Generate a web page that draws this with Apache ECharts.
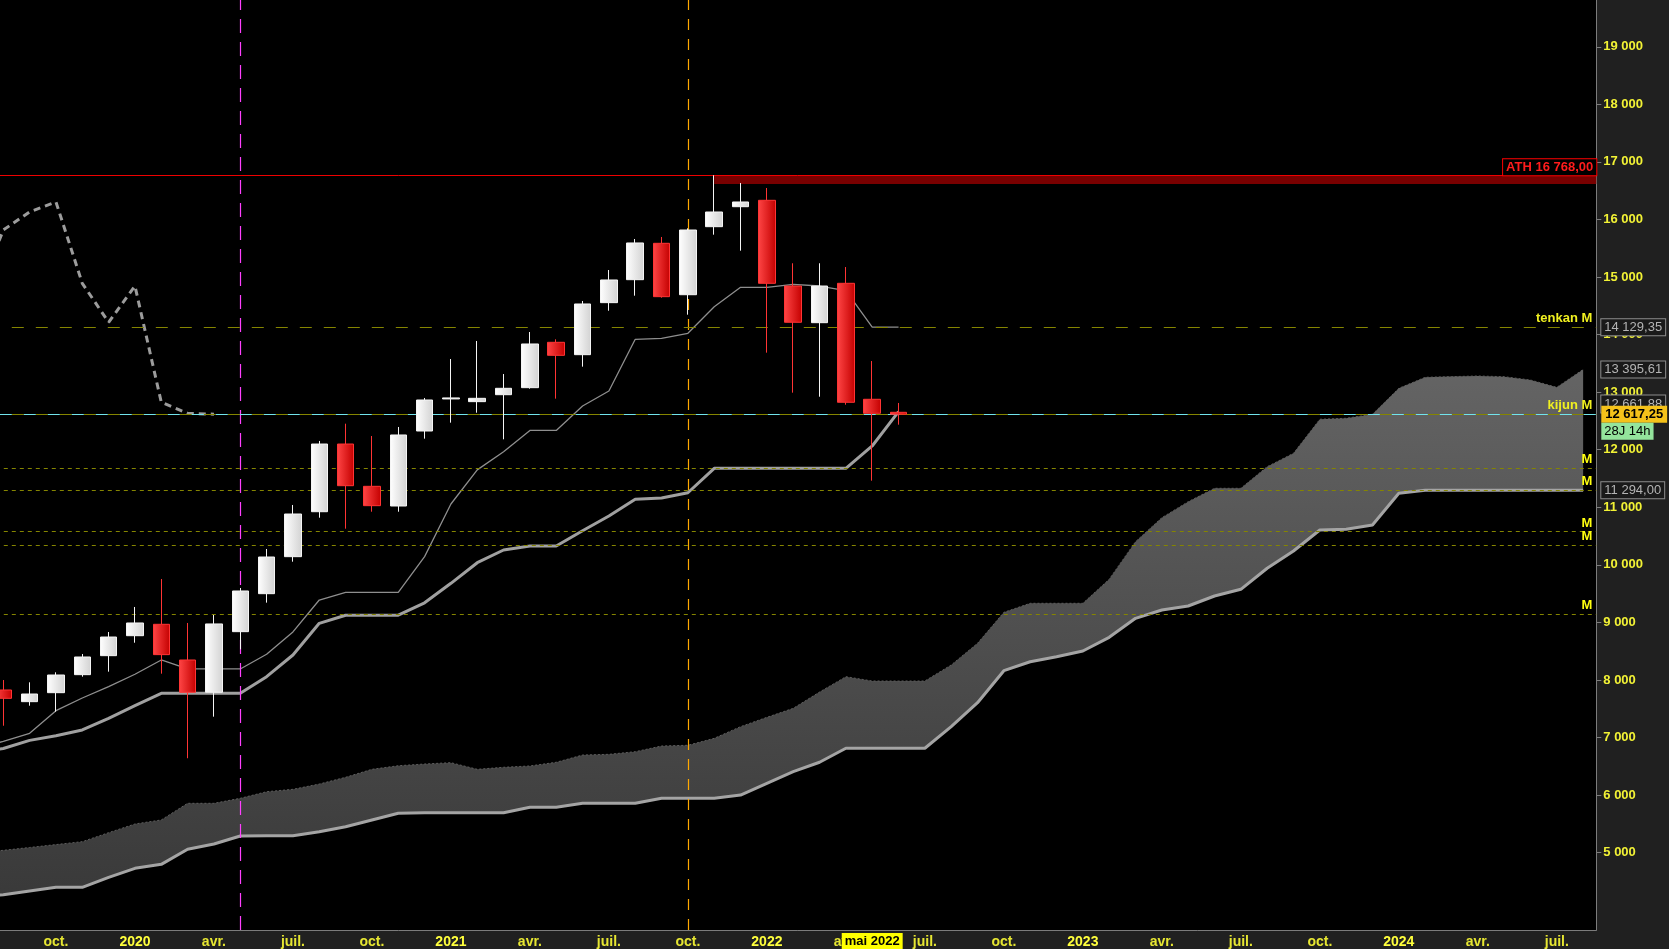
<!DOCTYPE html>
<html>
<head>
<meta charset="utf-8">
<title>NDX mensuel - Ichimoku</title>
<script src="https://cdn.jsdelivr.net/npm/echarts@6/dist/echarts.min.js"></script>
<style>
html, body { margin: 0; padding: 0; background: #202020; }
#chart { width: 1669px; height: 949px; }
</style>
</head>
<body>
<div id="chart"></div>
<script>
// monthly categories, Jul 2019 .. Aug 2024 (cloud is projected 26 months ahead)
var months = [];
(function () {
    var y = 2019, m = 7;
    while (y * 100 + m <= 202408) {
        months.push(y + '-' + (m < 10 ? '0' + m : m));
        m++;
        if (m > 12) { m = 1; y++; }
    }
})();

var monthShort = ['janv.', 'févr.', 'mars', 'avr.', 'mai', 'juin', 'juil.', 'août', 'sept.', 'oct.', 'nov.', 'déc.'];

// candles, Aug 2019 .. Jun 2022
var candleOpen  = [7826, 7623, 7779, 8092, 8422, 8769, 8967, 8347, 7786, 8839, 9499, 10142, 10923, 12099, 11364, 11022, 12325, 12882, 12835, 12956, 13078, 13866, 13651, 14555, 14954, 15586, 14693, 15875, 16222, 16333, 14844, 14207, 14891, 12876, 12650];
var candleClose = [7681, 7756, 8086, 8399, 8746, 8990, 8440, 7786, 8973, 9546, 10136, 10883, 12099, 11375, 11028, 12256, 12864, 12900, 12893, 13067, 13837, 13640, 14532, 14949, 15592, 14659, 15817, 16130, 16304, 14891, 14214, 14844, 12824, 12633, 12617.25];
var candleLow   = [7205, 7553, 7449, 8057, 8144, 8647, 8109, 6640, 7362, 8533, 9343, 10055, 10819, 10628, 10923, 10923, 12192, 12470, 12643, 12181, 13060, 12887, 13443, 14415, 14676, 14641, 14346, 15736, 15458, 13686, 12991, 12921, 12782, 11462, 12435];
var candleHigh  = [7999, 7959, 8133, 8451, 8833, 9268, 9754, 8990, 9129, 9598, 10275, 11040, 12152, 12452, 12238, 12395, 12899, 13576, 13889, 13315, 14045, 13918, 14584, 15122, 15661, 15696, 15846, 16768, 16634, 16547, 15239, 15239, 15174, 13541, 12812];

// ichimoku lines, Jul 2019 .. Jun 2022
var tenkan = [6800, 6935, 7073, 7466, 7687, 7883, 8099, 8347, 8191, 8191, 8191, 8446, 8835, 9389, 9523, 9523, 9523, 10142, 11057, 11650, 11966, 12335, 12335, 12760, 13020, 13918, 13936, 14023, 14485, 14822, 14822, 14874, 14844, 14763, 14129, 14129.35];
var kijun  = [6740, 6810, 6950, 7032, 7131, 7334, 7553, 7768, 7768, 7768, 7768, 8057, 8434, 8984, 9125, 9125, 9125, 9340, 9679, 10037, 10258, 10327, 10327, 10593, 10849, 11141, 11160, 11252, 11677, 11677, 11677, 11677, 11677, 11677, 12065, 12661.88];

// cloud, Jul 2019 .. Aug 2024
var ssa = [5000, 5040, 5090, 5140, 5191, 5347,
    5498, 5568, 5857, 5857, 5944, 6059, 6100, 6192, 6309, 6448, 6510, 6540,
    6563, 6448, 6483, 6506, 6570, 6696, 6708, 6754, 6853, 6865, 6986, 7189,
    7351, 7507, 7790, 8057, 7982, 7982, 7982, 8260, 8637, 9175, 9332, 9332,
    9332, 9749, 10402, 10819, 11097, 11330, 11330, 11705, 11938, 12529, 12546, 12616,
    13067, 13258, 13270, 13281, 13269, 13211, 13084, 13395.61];
var ssb = [4230, 4270, 4335, 4398, 4398, 4571,
    4728, 4797, 5058, 5150, 5289, 5295, 5295, 5364, 5451, 5567, 5683, 5694,
    5694, 5694, 5694, 5787, 5787, 5857, 5857, 5857, 5944, 5944, 5944, 6001,
    6204, 6406, 6570, 6813, 6813, 6813, 6813, 7188, 7605, 8161, 8317, 8404,
    8503, 8741, 9071, 9216, 9285, 9459, 9575, 9940, 10240, 10605, 10617, 10692,
    11243, 11294, 11294, 11294, 11294, 11294, 11294, 11294];

// horizontal levels
var athLevel = 16768;
var athZoneLow = 16615;
var tenkanM = 14129.35;
var kijunM = 12617.25;
var mLevels = [11677, 11294, 10580, 10338, 9140];
var lastPrice = 12617.25;
var axisTags = [14129.35, 13395.61, 11294.00];
var hiddenTag = 12661.88;
var countdown = '28J 14h';
var cursorMonth = '2022-05';
var priceTicks = [5000, 6000, 7000, 8000, 9000, 10000, 11000, 12000, 13000, 14000, 15000, 16000, 17000, 18000, 19000];

var FONT = '"Liberation Sans", Arial, sans-serif';
var OLIVE = '#858500';

function thousands(n) {
    return String(n).replace(/\B(?=(\d{3})+(?!\d))/g, ' ');
}
function price(v) {
    var p = v.toFixed(2).split('.');
    return thousands(p[0]) + ',' + p[1];
}
function isQuarter(index, value) {
    var m = value.slice(5);
    return m === '01' || m === '04' || m === '07' || m === '10';
}

// candles start one month after the first category
var candles = [['-', '-', '-', '-']];
for (var i = 0; i < candleOpen.length; i++) {
    candles.push([candleOpen[i], candleClose[i], candleLow[i], candleHigh[i]]);
}
// chikou = closes drawn 26 periods back
var chikou = months.map(function (c, idx) {
    var k = idx - 1 + 26;
    return k < candleClose.length ? candleClose[k] : '-';
});
var kumoThickness = ssa.map(function (v, idx) { return v - ssb[idx]; });

var tagLabel = {
    show: true, position: 'end', distance: 5,
    color: '#b4b4b4', backgroundColor: '#1a1a1a', borderColor: '#8c8c8c', borderWidth: 1,
    padding: [2, 3, 1, 3], fontSize: 13, fontFamily: FONT
};
// invisible line, the label keeps full opacity
var noLine = { color: 'rgba(0,0,0,0)', width: 1, type: 'solid' };

var lineMarks = [];
// vertical markers
lineMarks.push({ xAxis: '2020-05', lineStyle: { color: '#ff40ff', width: 1.2, type: [14, 9] }, label: { show: false } });
lineMarks.push({ xAxis: '2021-10', lineStyle: { color: '#ffa800', width: 1.2, type: [11, 9] }, label: { show: false } });
// ATH
lineMarks.push({
    yAxis: athLevel, lineStyle: { color: '#ee0000', width: 1, type: 'solid' },
    label: {
        show: true, position: 'insideEndTop', distance: [0, 0], formatter: 'ATH ' + price(athLevel),
        color: '#ff1c1c', fontWeight: 'bold', fontSize: 13, fontFamily: FONT,
        backgroundColor: '#000', borderColor: '#ff0000', borderWidth: 1, padding: [2, 3, 1, 3]
    }
});
// tenkan M / kijun M
lineMarks.push({
    yAxis: tenkanM, lineStyle: { color: OLIVE, width: 1, type: [12, 12] },
    label: { show: true, position: 'insideEndTop', distance: [4, 2], formatter: 'tenkan M', color: '#f0f020', fontWeight: 'bold', fontSize: 13, fontFamily: FONT }
});
lineMarks.push({
    yAxis: kijunM, lineStyle: { color: OLIVE, width: 1, type: [12, 12] },
    label: { show: true, position: 'insideEndTop', distance: [4, 2], formatter: 'kijun M', color: '#f0f020', fontWeight: 'bold', fontSize: 13, fontFamily: FONT }
});
lineMarks.push({
    yAxis: lastPrice, lineStyle: { color: '#72e4ec', width: 1, type: [12, 12], dashOffset: 12 },
    label: { show: false }
});
mLevels.forEach(function (v) {
    lineMarks.push({
        yAxis: v, lineStyle: { color: OLIVE, width: 1, type: [4, 4] },
        label: { show: true, position: 'insideEndTop', distance: [4, 2], formatter: 'M', color: '#ffff10', fontWeight: 'bold', fontSize: 13, fontFamily: FONT }
    });
});
// price tags on the axis
axisTags.forEach(function (v) {
    lineMarks.push({ yAxis: v, lineStyle: noLine, label: Object.assign({}, tagLabel, { formatter: price(v) }) });
});
lineMarks.push({
    yAxis: hiddenTag, lineStyle: noLine,
    label: {
        show: true, position: 'end', distance: 5, padding: 0,
        formatter: '{v|' + price(hiddenTag) + '}\n{e|}',
        rich: {
            v: { color: '#b4b4b4', backgroundColor: '#1a1a1a', borderColor: '#8c8c8c', borderWidth: 1, padding: [2, 3, 1, 3], fontSize: 13, fontFamily: FONT, height: 14 },
            e: { height: 15 }
        }
    }
});
lineMarks.push({
    yAxis: lastPrice, lineStyle: noLine,
    label: {
        show: true, position: 'end', distance: 5, padding: 0,
        formatter: '{e|}\n{p|' + price(lastPrice) + '}\n{t|' + countdown + '}',
        rich: {
            e: { height: 17 },
            p: { color: '#000', backgroundColor: '#f5c21a', fontWeight: 'bold', fontSize: 13, fontFamily: FONT, padding: [2, 4, 1, 4], height: 14 },
            t: { color: '#000', backgroundColor: '#94e49c', fontSize: 13, fontFamily: FONT, padding: [2, 3, 1, 3], height: 14 }
        }
    }
});

var cloudFill = {
    type: 'linear', x: 0, y: 370, x2: 0, y2: 900, global: true,
    colorStops: [{ offset: 0, color: '#646464' }, { offset: 1, color: '#393939' }]
};

var chartDom = document.getElementById('chart');
var myChart = echarts.init(chartDom, null, { renderer: 'canvas' });

var option = {
    backgroundColor: '#202020',
    animation: false,
    grid: {
        left: -36.2, right: 72.7, top: 0, bottom: 19,
        show: true, backgroundColor: '#000000', borderWidth: 0,
        containLabel: false, outerBoundsMode: 'none'
    },
    xAxis: {
        type: 'category',
        data: months,
        boundaryGap: true,
        axisLine: { lineStyle: { color: '#7c7c7c', width: 1 } },
        axisTick: { interval: isQuarter, alignWithLabel: true, length: 3, lineStyle: { color: '#7c7c7c' } },
        axisLabel: {
            interval: isQuarter,
            margin: 5,
            formatter: function (value) {
                var m = parseInt(value.slice(5), 10);
                if (m === 1) return '{y|' + value.slice(0, 4) + '}';
                return '{m|' + monthShort[m - 1] + '}';
            },
            rich: {
                y: { color: '#ffff3c', fontWeight: 'bold', fontSize: 14, fontFamily: FONT },
                m: { color: '#e6e632', fontWeight: 'bold', fontSize: 14, fontFamily: FONT }
            }
        },
        splitLine: { show: false },
        axisPointer: {
            show: true,
            type: 'line',
            value: months.indexOf(cursorMonth),
            status: 'show',
            triggerTooltip: false,
            lineStyle: { color: '#ffff00', opacity: 0 },
            label: {
                show: true,
                margin: 4,
                formatter: function () {
                    var m = parseInt(cursorMonth.slice(5), 10);
                    return monthShort[m - 1] + ' ' + cursorMonth.slice(0, 4);
                },
                backgroundColor: '#ffff00',
                color: '#000',
                fontWeight: 'bold',
                fontSize: 13,
                fontFamily: FONT,
                padding: [2, 3, 1, 3],
                borderRadius: 0
            }
        }
    },
    yAxis: {
        type: 'value',
        position: 'right',
        min: 3656,
        max: 19813,
        axisLine: { show: true, lineStyle: { color: '#7c7c7c' } },
        axisTick: { show: true, length: 5, customValues: priceTicks, lineStyle: { color: '#7c7c7c' } },
        axisLabel: {
            customValues: priceTicks,
            margin: 7,
            formatter: function (v) { return thousands(v); },
            color: '#f2f235',
            fontWeight: 'bold',
            fontSize: 13,
            fontFamily: FONT
        },
        splitLine: { show: false }
    },
    series: [
        {
            name: 'kumo base', type: 'line', data: ssb, stack: 'kumo', symbol: 'none',
            lineStyle: { opacity: 0 }, silent: true, z: 1
        },
        {
            name: 'kumo', type: 'line', data: kumoThickness, stack: 'kumo', symbol: 'none',
            lineStyle: { opacity: 0 }, areaStyle: { color: cloudFill, opacity: 1 }, silent: true, z: 1
        },
        {
            name: 'SSA', type: 'line', data: ssa, symbol: 'none', silent: true, z: 2,
            lineStyle: { color: '#5e5e5e', width: 1, type: [2, 2] }
        },
        {
            name: 'SSB', type: 'line', data: ssb, symbol: 'none', silent: true, z: 2,
            lineStyle: { color: '#a4a4a4', width: 3 }
        },
        {
            name: 'Kijun', type: 'line', data: kijun, symbol: 'none', silent: true, z: 3,
            lineStyle: { color: '#a0a0a0', width: 3 }
        },
        {
            name: 'Tenkan', type: 'line', data: tenkan, symbol: 'none', silent: true, z: 3,
            lineStyle: { color: '#8e8e8e', width: 1.3 }
        },
        {
            name: 'Chikou', type: 'line', data: chikou, symbol: 'none', silent: true, z: 3,
            lineStyle: { color: '#9c9c9c', width: 3, type: [7, 5] }
        },
        {
            name: 'NDX', type: 'candlestick', data: candles, barWidth: 17, z: 5,
            itemStyle: {
                color: { type: 'linear', x: 0, y: 0, x2: 1, y2: 0, colorStops: [{ offset: 0, color: '#ffffff' }, { offset: 1, color: '#d2d2d2' }] },
                color0: { type: 'linear', x: 0, y: 0, x2: 1, y2: 0, colorStops: [{ offset: 0, color: '#ff4646' }, { offset: 1, color: '#c40000' }] },
                borderColor: '#f4f4f4',
                borderColor0: '#ff3434',
                borderWidth: 1
            },
            markArea: {
                silent: true,
                itemStyle: { color: '#780000' },
                data: [[{ xAxis: '2021-11', yAxis: athLevel }, { yAxis: athZoneLow }]]
            },
            markLine: {
                symbol: 'none',
                silent: true,
                animation: false,
                data: lineMarks
            }
        }
    ]
};

if (option && typeof option === 'object') {
    myChart.setOption(option);
}
</script>
</body>
</html>
